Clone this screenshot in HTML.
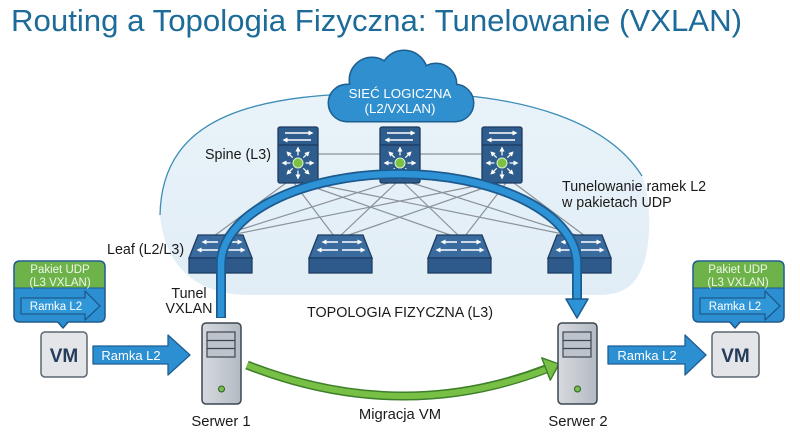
<!DOCTYPE html>
<html><head><meta charset="utf-8"><style>
html,body{margin:0;padding:0;background:#fff;}
svg{display:block;font-family:"Liberation Sans",Arial,sans-serif;}
</style></head><body>
<svg width="800" height="436" viewBox="0 0 800 436" xmlns="http://www.w3.org/2000/svg">
<defs>
<marker id="wh" markerUnits="userSpaceOnUse" markerWidth="5" markerHeight="5" refX="2.5" refY="2.5" orient="auto"><path d="M0,0 L5,2.5 L0,5 z" fill="#fff"/></marker>
<linearGradient id="srv" x1="0" y1="0" x2="1" y2="0"><stop offset="0" stop-color="#d6dadf"/><stop offset="1" stop-color="#b3bac2"/></linearGradient>
<linearGradient id="ell" x1="0" y1="0" x2="0" y2="1"><stop offset="0" stop-color="#e9f3f9"/><stop offset="1" stop-color="#e1edf6"/></linearGradient>
</defs>
<rect width="800" height="436" fill="#fff"/>
<text x="11" y="31" font-size="31" fill="#1c6b98" textLength="731" lengthAdjust="spacingAndGlyphs">Routing a Topologia Fizyczna: Tunelowanie (VXLAN)</text>

<!-- ellipse region -->
<path d="M160 215 C162 115 255 92 400 93 C530 92 610 125 642 176 C652 200 652 250 640 272 Q630 295 600 295 L250 295 C200 295 165 270 160 215 Z" fill="url(#ell)"/>
<path d="M160 215 C162 115 255 92 400 93 C530 92 610 125 642 176" fill="none" stroke="#3b8db5" stroke-width="1.3"/>

<!-- cloud -->
<g fill="#1e5f92" stroke="#1e5f92" stroke-width="3">
<circle cx="347" cy="103" r="18"/><circle cx="372" cy="80" r="22"/><circle cx="404" cy="74" r="23"/><circle cx="436" cy="84" r="20"/><circle cx="455" cy="103" r="18"/><rect x="347" y="85" width="108" height="36"/>
</g>
<g fill="#2f8fcf">
<circle cx="347" cy="103" r="18"/><circle cx="372" cy="80" r="22"/><circle cx="404" cy="74" r="23"/><circle cx="436" cy="84" r="20"/><circle cx="455" cy="103" r="18"/><rect x="347" y="85" width="108" height="36"/>
</g>
<text x="400" y="98" font-size="13.3" fill="#fff" text-anchor="middle">SIEĆ LOGICZNA</text>
<text x="400" y="113" font-size="13.3" fill="#fff" text-anchor="middle">(L2/VXLAN)</text>

<!-- links -->
<g stroke="#8c9299" stroke-width="1.2">
<line x1="318" y1="154" x2="482" y2="154"/>
<line x1="286" y1="183" x2="214" y2="236"/><line x1="294" y1="183" x2="334" y2="236"/><line x1="302" y1="183" x2="453" y2="236"/><line x1="310" y1="183" x2="573" y2="236"/>
<line x1="388" y1="183" x2="220" y2="236"/><line x1="396" y1="183" x2="340" y2="236"/><line x1="404" y1="183" x2="459" y2="236"/><line x1="412" y1="183" x2="579" y2="236"/>
<line x1="490" y1="183" x2="226" y2="236"/><line x1="498" y1="183" x2="346" y2="236"/><line x1="506" y1="183" x2="465" y2="236"/><line x1="514" y1="183" x2="585" y2="236"/>
</g>

<!-- leaves -->
<g stroke="#1d3d62" stroke-width="1.3">
<path d="M198 235 H243 L252 258 H189 Z" fill="#3a6b9e"/><rect x="189" y="258" width="63" height="15" fill="#2d5a8a"/>
<path d="M318 235 H363 L372 258 H309 Z" fill="#3a6b9e"/><rect x="309" y="258" width="63" height="15" fill="#2d5a8a"/>
<path d="M437 235 H482 L491 258 H428 Z" fill="#3a6b9e"/><rect x="428" y="258" width="63" height="15" fill="#2d5a8a"/>
<path d="M557 235 H602 L611 258 H548 Z" fill="#3a6b9e"/><rect x="548" y="258" width="63" height="15" fill="#2d5a8a"/>
</g>
<g stroke="#fff" stroke-width="1.5" marker-end="url(#wh)">
<line x1="218" y1="242" x2="204" y2="242"/><line x1="222" y1="242" x2="240" y2="242"/><line x1="218" y1="250" x2="199" y2="250"/><line x1="222" y1="250" x2="243" y2="250"/>
<line x1="338" y1="242" x2="324" y2="242"/><line x1="342" y1="242" x2="360" y2="242"/><line x1="338" y1="250" x2="319" y2="250"/><line x1="342" y1="250" x2="363" y2="250"/>
<line x1="457" y1="242" x2="443" y2="242"/><line x1="461" y1="242" x2="479" y2="242"/><line x1="457" y1="250" x2="438" y2="250"/><line x1="461" y1="250" x2="482" y2="250"/>
<line x1="577" y1="242" x2="563" y2="242"/><line x1="581" y1="242" x2="599" y2="242"/><line x1="577" y1="250" x2="558" y2="250"/><line x1="581" y1="250" x2="602" y2="250"/>
</g>

<!-- spines -->
<g stroke="#1b3a5f" stroke-width="1.3">
<rect x="278" y="127" width="40" height="56" rx="2" fill="#2e5c8d"/><line x1="278" y1="145" x2="318" y2="145"/>
<rect x="380" y="127" width="40" height="56" rx="2" fill="#2e5c8d"/><line x1="380" y1="145" x2="420" y2="145"/>
<rect x="482" y="127" width="40" height="56" rx="2" fill="#2e5c8d"/><line x1="482" y1="145" x2="522" y2="145"/>
</g>
<g stroke="#fff" stroke-width="1.4" marker-end="url(#wh)">
<line x1="285" y1="133" x2="311" y2="133"/><line x1="311" y1="140" x2="285" y2="140"/>
<line x1="387" y1="133" x2="413" y2="133"/><line x1="413" y1="140" x2="387" y2="140"/>
<line x1="489" y1="133" x2="515" y2="133"/><line x1="515" y1="140" x2="489" y2="140"/>
</g>
<g stroke="#fff" stroke-width="1.2" marker-end="url(#wh)">
<g id="rad">
<line x1="305.5" y1="163" x2="312" y2="163"/><line x1="290.5" y1="163" x2="284" y2="163"/><line x1="298" y1="155.5" x2="298" y2="149"/><line x1="298" y1="170.5" x2="298" y2="177"/>
<line x1="303.3" y1="157.7" x2="307.9" y2="153.1"/><line x1="292.7" y1="157.7" x2="288.1" y2="153.1"/><line x1="303.3" y1="168.3" x2="307.9" y2="172.9"/><line x1="292.7" y1="168.3" x2="288.1" y2="172.9"/>
</g>
<use href="#rad" x="102"/><use href="#rad" x="204"/>
</g>
<g fill="#7cc142" stroke="#dff0d0" stroke-width="1">
<circle cx="298" cy="163" r="5"/><circle cx="400" cy="163" r="5"/><circle cx="502" cy="163" r="5"/>
</g>

<!-- tunnel (in front of spines) -->
<path d="M221 318 V264 A178 90 0 0 1 577 264 V300" fill="none" stroke="#1d5b8f" stroke-width="10"/>
<path d="M221 317 V264 A178 90 0 0 1 577 264 V301" fill="none" stroke="#2d93d6" stroke-width="6.5"/>
<polygon points="566,299 588,299 577,318" fill="#2d93d6" stroke="#1d5b8f" stroke-width="1.5" stroke-linejoin="round"/>

<!-- labels -->
<g font-size="14.3" fill="#1a1a1a">
<text x="205" y="159">Spine (L3)</text>
<text x="107" y="254">Leaf (L2/L3)</text>
<text x="562" y="191">Tunelowanie ramek L2</text>
<text x="562" y="207">w pakietach UDP</text>
<text x="189" y="298" text-anchor="middle">Tunel</text>
<text x="189" y="313" text-anchor="middle">VXLAN</text>
<text x="307" y="317" textLength="186" lengthAdjust="spacingAndGlyphs">TOPOLOGIA FIZYCZNA (L3)</text>
<text x="400" y="419" text-anchor="middle" font-size="14.8">Migracja VM</text>
<text x="221" y="426" text-anchor="middle" font-size="14.8">Serwer 1</text>
<text x="578" y="426" text-anchor="middle" font-size="14.8">Serwer 2</text>
</g>

<!-- green migration -->
<path d="M247 365 Q400 425 546 369" fill="none" stroke="#3e7f2b" stroke-width="9"/>
<path d="M247 365 Q400 425 547 369" fill="none" stroke="#78bf45" stroke-width="6"/>
<polygon points="541.7,357.8 559,364 550.3,380.2" fill="#78bf45" stroke="#3e7f2b" stroke-width="1.4" stroke-linejoin="round"/>

<!-- servers -->
<g stroke="#3c4650" stroke-width="1.5">
<rect x="202" y="323" width="39" height="81" rx="4" fill="url(#srv)"/>
<rect x="207" y="332" width="28" height="25" fill="#bcc3ca" stroke-width="1.2"/>
<line x1="207" y1="340.5" x2="235" y2="340.5" stroke-width="1.2"/><line x1="207" y1="348.5" x2="235" y2="348.5" stroke-width="1.2"/>
<circle cx="221.5" cy="389" r="3" fill="#78be4e" stroke="#2e5f26" stroke-width="1"/>
<rect x="558" y="323" width="39" height="81" rx="4" fill="url(#srv)"/>
<rect x="563" y="332" width="28" height="25" fill="#bcc3ca" stroke-width="1.2"/>
<line x1="563" y1="340.5" x2="591" y2="340.5" stroke-width="1.2"/><line x1="563" y1="348.5" x2="591" y2="348.5" stroke-width="1.2"/>
<circle cx="577.5" cy="389" r="3" fill="#78be4e" stroke="#2e5f26" stroke-width="1"/>
</g>

<!-- Ramka L2 big arrows -->
<g fill="#2b8fd2" stroke="#1f5e92" stroke-width="1.3" stroke-linejoin="round">
<polygon points="93,346 168,346 168,335 190,355 168,375 168,364 93,364"/>
<polygon points="608,346 685,346 685,335 706,355 685,375 685,364 608,364"/>
</g>
<text x="131" y="360" font-size="13" fill="#fff" text-anchor="middle">Ramka L2</text>
<text x="647" y="360" font-size="13" fill="#fff" text-anchor="middle">Ramka L2</text>

<!-- VM boxes -->
<g fill="#e3e5e8" stroke="#5b6670" stroke-width="1.5">
<rect x="41" y="332" width="46" height="45" rx="4"/>
<rect x="712" y="332" width="47" height="45" rx="4"/>
</g>
<text x="64" y="362" font-size="19" font-weight="bold" fill="#263c5c" text-anchor="middle">VM</text>
<text x="735.5" y="362" font-size="19" font-weight="bold" fill="#263c5c" text-anchor="middle">VM</text>

<!-- callouts -->
<g stroke="#1f5a8a" stroke-width="1.5" stroke-linejoin="round">
<polygon points="56,320 70,320 63,328" fill="#2b8fd2"/>
<path d="M20 261 H99 Q105 261 105 267 V316 Q105 322 99 322 H20 Q14 322 14 316 V267 Q14 261 20 261Z" fill="#2b8fd2"/>
<polygon points="728,320 742,320 735,328" fill="#2b8fd2"/>
<path d="M699 261 H778 Q784 261 784 267 V316 Q784 322 778 322 H699 Q693 322 693 316 V267 Q693 261 699 261Z" fill="#2b8fd2"/>
</g>
<polygon points="57.5,321 68.5,321 63,325" fill="#2b8fd2"/>
<polygon points="729.5,321 740.5,321 735,325" fill="#2b8fd2"/>
<path d="M20.5 261.8 H98.5 Q104.2 261.8 104.2 267 V288 H14.8 V267 Q14.8 261.8 20.5 261.8Z" fill="#6db34a"/>
<path d="M699.5 261.8 H777.5 Q783.2 261.8 783.2 267 V288 H693.8 V267 Q693.8 261.8 699.5 261.8Z" fill="#6db34a"/>
<line x1="14" y1="288" x2="105" y2="288" stroke="#1f5a8a" stroke-width="1"/>
<line x1="693" y1="288" x2="784" y2="288" stroke="#1f5a8a" stroke-width="1"/>
<g fill="#2f96d8" stroke="#1d5a8c" stroke-width="1.3" stroke-linejoin="round">
<polygon points="21,298 85,298 85,291 100,306 85,320 85,314 21,314"/>
<polygon points="700,298 765,298 765,291 780,306 765,320 765,314 700,314"/>
</g>
<g font-size="11.5" fill="#eef7e8" text-anchor="middle">
<text x="60" y="273">Pakiet UDP</text>
<text x="60" y="286">(L3 VXLAN)</text>
<text x="738" y="273">Pakiet UDP</text>
<text x="738" y="286">(L3 VXLAN)</text>
</g>
<text x="56" y="310" font-size="11.5" fill="#fff" text-anchor="middle">Ramka L2</text>
<text x="735" y="310" font-size="11.5" fill="#fff" text-anchor="middle">Ramka L2</text>
</svg>
</body></html>
